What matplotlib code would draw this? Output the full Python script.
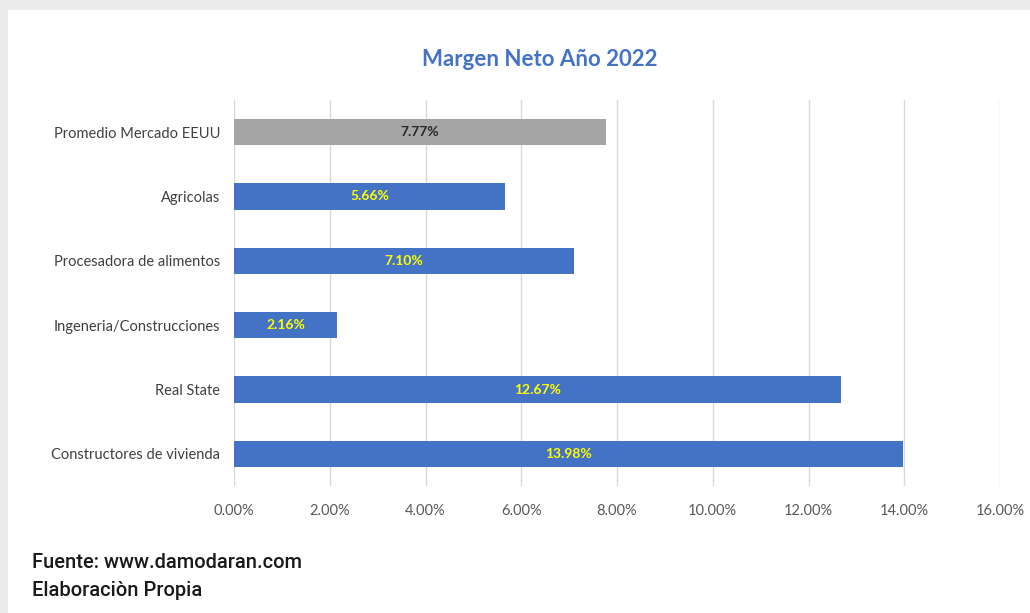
import matplotlib.pyplot as plt
from matplotlib.patches import Rectangle
from matplotlib.ticker import FuncFormatter

plt.rcParams['font.family'] = ['Lato', 'DejaVu Sans']

# Margen neto por sector (en %)
categorias = ['Promedio Mercado EEUU', 'Agricolas', 'Procesadora de alimentos',
              'Ingeneria/Construcciones', 'Real State', 'Constructores de vivienda']
margen = [7.77, 5.66, 7.10, 2.16, 12.67, 13.98]
colores = ['#A5A5A5', '#4472C4', '#4472C4', '#4472C4', '#4472C4', '#4472C4']
color_etiqueta = ['#262626', '#FFFF00', '#FFFF00', '#FFFF00', '#FFFF00', '#FFFF00']
ticks_x = [0, 2, 4, 6, 8, 10, 12, 14, 16]

fig = plt.figure(figsize=(10.30, 6.13), dpi=100)
fig.patch.set_facecolor('#EBEBEB')
# fondo blanco del area del grafico
fig.patches.append(Rectangle((8 / 1030, 0), 1 - 8 / 1030, 1 - 10 / 613,
                             transform=fig.transFigure, facecolor='white',
                             edgecolor='none', zorder=-5))

ax = fig.add_axes([234 / 1030, 127 / 613, 766 / 1030, 386 / 613])
ax.set_facecolor('none')

pos = list(range(len(categorias)))
ax.barh(pos, margen, height=0.41, color=colores, zorder=2)

for p, v, c in zip(pos, margen, color_etiqueta):
    ax.text(v / 2, p, f'{v:.2f}%', ha='center', va='center', color=c,
            fontsize=10, fontweight='bold', zorder=3)

ax.set_xlim(0, 16)
ax.set_ylim(len(categorias) - 0.5, -0.5)
ax.set_yticks(pos)
ax.set_yticklabels(categorias, fontsize=10.5, color='#404040')
ax.set_xticks(ticks_x)
ax.xaxis.set_major_formatter(FuncFormatter(lambda x, _: f'{x:.2f}%'))
ax.tick_params(axis='x', labelsize=10.5, labelcolor='#595959', length=0, pad=13)
ax.tick_params(axis='y', length=0, pad=10)
ax.grid(axis='x', color='#D9D9D9', linewidth=1, zorder=1)
for s in ax.spines.values():
    s.set_visible(False)

fig.text(540 / 1030, 1 - 60 / 613, 'Margen Neto Año 2022', ha='center', va='center',
         fontsize=16, fontweight='bold', color='#4472C4')

fig.text(32 / 1030, 1 - 563 / 613, 'Fuente: www.damodaran.com', ha='left', va='center',
         fontsize=14.5, fontweight='medium', color='#1a1a1a', family=['Roboto', 'DejaVu Sans'])
fig.text(32 / 1030, 1 - 591 / 613, 'Elaboraciòn Propia', ha='left', va='center',
         fontsize=14.5, fontweight='medium', color='#1a1a1a', family=['Roboto', 'DejaVu Sans'])

fig.savefig('out.png', dpi=100)
